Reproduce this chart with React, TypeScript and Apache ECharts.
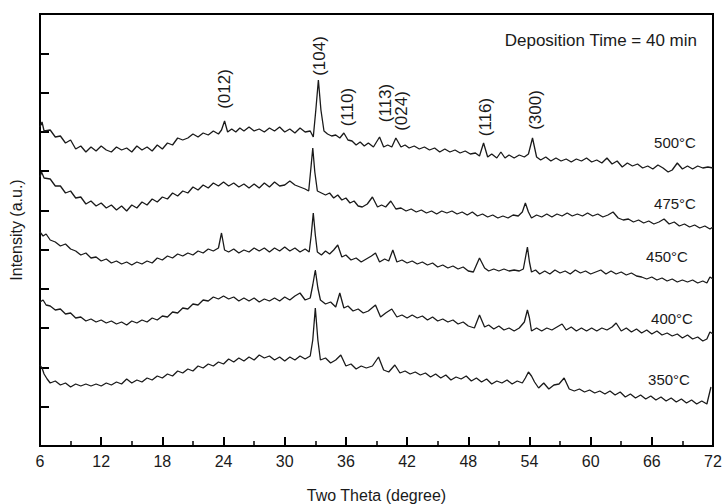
import React, { useEffect, useRef } from "react";
import * as echarts from "echarts";

// Two-theta (degree) vs intensity (a.u.).
const xTicks = [6, 12, 18, 24, 30, 36, 42, 48, 54, 60, 66, 72];

const s500: number[][] = [
  [6.0, 319], [6.2, 324], [6.4, 315], [7.0, 316], [7.5, 309], [8.0, 310], [8.5, 303], [9.0, 306], [9.5, 297], [10.0, 300],
  [10.5, 294], [11.0, 299], [11.5, 295], [12.0, 300], [12.5, 296], [13.0, 294], [13.5, 299], [14.0, 296], [14.5, 298], [15.0, 294],
  [15.5, 300], [16.0, 296], [16.5, 299], [17.0, 295], [17.5, 301], [18.0, 297], [18.5, 303], [19.0, 301], [19.5, 308], [20.0, 306],
  [20.5, 308], [21.0, 312], [21.5, 309], [22.0, 313], [22.5, 311], [23.0, 315], [23.5, 312], [23.8, 316], [24.1, 325], [24.4, 314],
  [24.8, 317], [25.2, 314], [25.6, 318], [26.0, 315], [26.5, 319], [27.0, 315], [27.5, 317], [28.0, 314], [28.5, 318], [29.0, 315],
  [29.5, 319], [30.0, 314], [30.5, 317], [31.0, 313], [31.5, 318], [32.0, 314], [32.5, 315], [32.8, 309], [33.05, 336], [33.3, 366],
  [33.55, 336], [33.85, 315], [34.2, 312], [34.6, 310], [35.0, 311], [35.4, 308], [35.8, 313], [36.2, 306], [36.6, 305], [37.0, 301],
  [37.4, 304], [37.8, 300], [38.2, 303], [38.7, 299], [39.3, 309], [39.7, 299], [40.1, 301], [40.5, 299], [40.9, 308], [41.4, 299],
  [41.8, 301], [42.2, 298], [42.7, 300], [43.2, 297], [43.7, 299], [44.2, 296], [44.7, 298], [45.2, 294], [45.7, 297], [46.2, 294],
  [46.7, 296], [47.2, 293], [47.7, 295], [48.2, 292], [48.7, 293], [49.1, 290], [49.5, 303], [49.9, 289], [50.3, 292], [50.8, 288],
  [51.2, 294], [51.6, 288], [52.0, 291], [52.5, 288], [53.0, 291], [53.5, 289], [53.9, 292], [54.3, 308], [54.7, 289], [55.1, 286],
  [55.6, 289], [56.1, 285], [56.6, 288], [57.1, 285], [57.6, 287], [58.1, 284], [58.6, 287], [59.1, 285], [59.6, 288], [60.1, 284],
  [60.6, 286], [61.1, 283], [61.6, 288], [62.1, 282], [62.6, 285], [63.1, 279], [63.6, 283], [64.1, 280], [64.6, 282], [65.1, 278],
  [65.6, 280], [66.1, 277], [66.6, 281], [67.1, 278], [67.6, 274], [68.0, 276], [68.5, 283], [69.0, 277], [69.5, 280], [70.0, 277],
  [70.5, 280], [71.0, 278], [71.5, 279], [72.0, 278],
];

const s475: number[][] = [
  [6.0, 269], [6.15, 274], [6.4, 268], [7.0, 267], [7.5, 260], [8.0, 260], [8.5, 253], [9.0, 255], [9.5, 248], [10.0, 249],
  [10.5, 242], [11.0, 245], [11.5, 240], [12.0, 243], [12.5, 238], [13.0, 241], [13.5, 236], [14.0, 240], [14.5, 235], [15.0, 241],
  [15.5, 238], [16.0, 244], [16.5, 241], [17.0, 247], [17.5, 244], [18.0, 249], [18.5, 247], [19.0, 253], [19.5, 250], [20.0, 255],
  [20.5, 253], [21.0, 259], [21.5, 256], [22.0, 261], [22.5, 258], [23.0, 263], [23.5, 260], [24.0, 264], [24.5, 260], [25.0, 263],
  [25.5, 259], [26.0, 262], [26.5, 258], [27.0, 262], [27.5, 258], [28.0, 263], [28.5, 259], [29.0, 264], [29.5, 260], [30.0, 261],
  [30.5, 265], [31.0, 261], [31.5, 259], [32.0, 257], [32.35, 255], [32.55, 276], [32.75, 298], [32.95, 274], [33.2, 255], [33.6, 253],
  [34.0, 251], [34.4, 253], [34.8, 248], [35.2, 251], [35.6, 246], [36.0, 248], [36.4, 243], [36.8, 245], [37.2, 240], [37.6, 239],
  [38.1, 242], [38.6, 249], [39.1, 239], [39.5, 241], [39.9, 239], [40.4, 245], [40.9, 237], [41.4, 238], [41.9, 235], [42.4, 237],
  [42.9, 234], [43.4, 236], [43.9, 233], [44.4, 235], [44.9, 232], [45.4, 235], [45.9, 233], [46.4, 235], [46.9, 232], [47.4, 234],
  [47.9, 231], [48.4, 234], [48.9, 230], [49.4, 232], [49.9, 229], [50.4, 231], [50.9, 228], [51.4, 230], [51.9, 228], [52.4, 231],
  [52.9, 230], [53.3, 234], [53.6, 243], [53.9, 234], [54.2, 228], [54.7, 231], [55.2, 229], [55.7, 232], [56.2, 229], [56.7, 232],
  [57.2, 230], [57.7, 233], [58.2, 230], [58.7, 232], [59.2, 230], [59.7, 233], [60.2, 230], [60.7, 232], [61.2, 229], [61.7, 231],
  [62.2, 234], [62.7, 228], [63.2, 226], [63.7, 227], [64.2, 224], [64.7, 226], [65.2, 223], [65.7, 225], [66.2, 222], [66.7, 224],
  [67.2, 227], [67.7, 222], [68.2, 224], [68.7, 220], [69.2, 222], [69.7, 219], [70.2, 221], [70.7, 218], [71.2, 220], [71.7, 217],
  [72.0, 219],
];

const s450: number[][] = [
  [6.0, 214], [6.3, 210], [6.6, 212], [7.0, 206], [7.5, 204], [8.0, 200], [8.5, 202], [9.0, 197], [9.5, 195], [10.0, 191],
  [10.5, 193], [11.0, 188], [11.5, 189], [12.0, 185], [12.5, 187], [13.0, 183], [13.5, 185], [14.0, 182], [14.5, 184], [15.0, 181],
  [15.5, 184], [16.0, 182], [16.5, 185], [17.0, 183], [17.5, 188], [18.0, 186], [18.5, 190], [19.0, 188], [19.5, 192], [20.0, 190],
  [20.5, 193], [21.0, 191], [21.5, 195], [22.0, 193], [22.5, 197], [23.0, 195], [23.5, 198], [23.8, 213], [24.1, 196], [24.5, 194],
  [25.0, 197], [25.5, 193], [26.0, 196], [26.5, 194], [27.0, 198], [27.5, 195], [28.0, 198], [28.5, 194], [29.0, 198], [29.5, 195],
  [30.0, 199], [30.5, 195], [31.0, 198], [31.5, 194], [32.0, 197], [32.4, 194], [32.6, 211], [32.8, 233], [33.0, 211], [33.2, 194],
  [33.6, 191], [34.0, 195], [34.4, 192], [34.8, 196], [35.2, 201], [35.6, 189], [36.0, 191], [36.5, 186], [37.0, 188], [37.5, 184],
  [38.0, 187], [38.5, 190], [38.9, 193], [39.3, 184], [39.8, 187], [40.2, 185], [40.6, 196], [41.0, 184], [41.5, 186], [42.0, 183],
  [42.5, 185], [43.0, 182], [43.5, 184], [44.0, 181], [44.5, 183], [45.0, 179], [45.5, 181], [46.0, 178], [46.5, 180], [47.0, 177],
  [47.5, 179], [48.0, 175], [48.5, 174], [49.1, 188], [49.6, 178], [50.0, 175], [50.5, 177], [51.0, 175], [51.5, 177], [52.0, 175],
  [52.5, 176], [53.0, 175], [53.4, 177], [53.6, 188], [53.8, 199], [54.0, 184], [54.2, 174], [54.6, 176], [55.0, 172], [55.5, 175],
  [56.0, 172], [56.5, 176], [57.0, 173], [57.5, 175], [58.0, 172], [58.5, 176], [59.0, 173], [59.5, 175], [60.0, 172], [60.5, 174],
  [61.0, 176], [61.5, 172], [62.0, 175], [62.5, 172], [63.0, 174], [63.5, 171], [64.0, 173], [64.5, 170], [65.0, 169], [65.5, 167],
  [66.0, 169], [66.5, 166], [67.0, 168], [67.5, 165], [68.0, 167], [68.5, 164], [69.0, 166], [69.5, 164], [70.0, 166], [70.5, 163],
  [71.0, 165], [71.4, 163], [71.7, 169], [72.0, 167],
];

const s400: number[][] = [
  [6.0, 144], [6.3, 146], [6.6, 141], [7.0, 140], [7.5, 136], [8.0, 137], [8.5, 132], [9.0, 133], [9.5, 128], [10.0, 129],
  [10.5, 125], [11.0, 127], [11.5, 124], [12.0, 126], [12.5, 123], [13.0, 125], [13.5, 122], [14.0, 124], [14.5, 121], [15.0, 125],
  [15.5, 123], [16.0, 126], [16.5, 124], [17.0, 128], [17.5, 126], [18.0, 130], [18.5, 129], [19.0, 134], [19.5, 133], [20.0, 138],
  [20.5, 137], [21.0, 142], [21.5, 141], [22.0, 146], [22.5, 145], [23.0, 149], [23.5, 147], [24.0, 150], [24.5, 147], [25.0, 149],
  [25.5, 145], [26.0, 148], [26.5, 145], [27.0, 148], [27.5, 144], [28.0, 147], [28.5, 145], [29.0, 148], [29.5, 145], [30.0, 149],
  [30.5, 146], [31.0, 150], [31.5, 153], [32.0, 146], [32.5, 148], [32.75, 161], [33.0, 176], [33.25, 158], [33.5, 146], [34.0, 142],
  [34.5, 144], [35.0, 139], [35.4, 153], [35.8, 138], [36.2, 140], [36.7, 135], [37.2, 137], [37.7, 133], [38.2, 135], [38.9, 141],
  [39.4, 129], [39.9, 133], [40.5, 137], [41.0, 129], [41.5, 131], [42.0, 128], [42.5, 131], [43.0, 128], [43.5, 130], [44.0, 126],
  [44.5, 129], [45.0, 125], [45.5, 127], [46.0, 124], [46.5, 126], [47.0, 122], [47.5, 124], [48.0, 120], [48.6, 118], [49.1, 131],
  [49.6, 119], [50.0, 121], [50.5, 117], [51.0, 120], [51.5, 116], [52.0, 118], [52.5, 115], [53.0, 118], [53.5, 124], [53.8, 136],
  [54.0, 128], [54.2, 115], [54.7, 118], [55.2, 115], [55.7, 118], [56.2, 116], [56.7, 119], [57.2, 122], [57.6, 116], [58.1, 119],
  [58.6, 115], [59.1, 118], [59.6, 115], [60.1, 118], [60.6, 115], [61.1, 118], [61.6, 116], [62.1, 119], [62.5, 123], [63.0, 115],
  [63.5, 118], [64.0, 114], [64.5, 117], [65.0, 113], [65.5, 116], [66.0, 112], [66.5, 115], [67.0, 111], [67.5, 113], [68.0, 110],
  [68.5, 112], [69.0, 108], [69.5, 111], [70.0, 107], [70.5, 109], [71.0, 105], [71.4, 107], [71.7, 114], [72.0, 112],
];

const s350: number[][] = [
  [6.0, 81], [6.2, 78], [6.4, 72], [6.7, 67], [7.0, 63], [7.5, 65], [8.0, 61], [8.5, 63], [9.0, 59], [9.5, 62],
  [10.0, 60], [10.5, 62], [11.0, 60], [11.5, 62], [12.0, 60], [12.5, 63], [13.0, 61], [13.5, 64], [14.0, 62], [14.5, 67],
  [15.0, 63], [15.5, 66], [16.0, 64], [16.5, 68], [17.0, 66], [17.5, 70], [18.0, 68], [18.5, 72], [19.0, 70], [19.5, 75],
  [20.0, 73], [20.5, 77], [21.0, 75], [21.5, 80], [22.0, 78], [22.5, 82], [23.0, 80], [23.5, 84], [24.0, 82], [24.5, 87],
  [25.0, 84], [25.5, 88], [26.0, 85], [26.5, 89], [27.0, 86], [27.5, 91], [28.0, 88], [28.5, 90], [29.0, 86], [29.5, 89],
  [30.0, 85], [30.5, 89], [31.0, 86], [31.5, 90], [32.0, 87], [32.5, 90], [32.75, 106], [33.0, 138], [33.25, 106], [33.5, 86],
  [34.0, 88], [34.5, 83], [35.0, 86], [35.5, 91], [36.0, 80], [36.5, 82], [37.0, 77], [37.5, 80], [38.0, 78], [38.6, 80],
  [39.2, 89], [39.7, 76], [40.2, 74], [40.8, 81], [41.3, 73], [41.8, 75], [42.3, 72], [42.8, 74], [43.3, 71], [43.8, 73],
  [44.3, 69], [44.8, 72], [45.3, 68], [45.8, 71], [46.3, 66], [46.8, 69], [47.3, 67], [47.8, 70], [48.3, 65], [48.8, 68],
  [49.3, 64], [49.8, 67], [50.3, 62], [50.8, 65], [51.3, 63], [51.8, 66], [52.3, 62], [52.8, 65], [53.3, 63], [53.6, 68],
  [53.9, 74], [54.2, 70], [54.5, 64], [54.9, 58], [55.4, 63], [55.9, 57], [56.4, 61], [56.9, 62], [57.4, 68], [57.9, 57],
  [58.4, 55], [58.9, 57], [59.4, 54], [59.9, 56], [60.4, 53], [60.9, 55], [61.4, 52], [61.9, 55], [62.4, 51], [62.9, 54],
  [63.4, 49], [63.9, 52], [64.4, 48], [64.9, 51], [65.4, 47], [65.9, 50], [66.4, 46], [66.9, 49], [67.4, 45], [67.9, 48],
  [68.4, 44], [68.9, 47], [69.4, 43], [69.9, 46], [70.4, 42], [70.9, 45], [71.4, 42], [71.8, 59],
];

const seriesNames = ["500°C", "475°C", "450°C", "400°C", "350°C"];
const seriesData = [s500, s475, s450, s400, s350];

const peakLabels = ["(012)", "(104)", "(110)", "(113)", "(024)", "(116)", "(300)"];
const peakLabelPos = [
  [224, 89], [319, 56], [347, 107], [385, 103], [401, 111], [485, 117], [535, 110],
];
const tempLabelPos = [
  [675, 142], [675, 203], [667, 256], [672, 318], [669, 379],
];

const FONT = "'Liberation Sans', Arial, Helvetica, sans-serif";
const INK = "#1a1a1a";

export default function App() {
  const ref = useRef<HTMLDivElement>(null);

  useEffect(() => {
    if (!ref.current) return;
    const chart = echarts.init(ref.current, undefined, { renderer: "svg" });

    const graphics: any[] = [];
    peakLabels.forEach((t, i) => {
      graphics.push({
        type: "text",
        x: peakLabelPos[i][0],
        y: peakLabelPos[i][1],
        rotation: Math.PI / 2,
        style: {
          text: t,
          fontSize: 17,
          fontFamily: FONT,
          fill: INK,
          align: "center",
          verticalAlign: "middle",
        },
      });
    });
    seriesNames.forEach((t, i) => {
      graphics.push({
        type: "text",
        x: tempLabelPos[i][0],
        y: tempLabelPos[i][1],
        style: {
          text: t,
          fontSize: 15,
          fontFamily: FONT,
          fill: INK,
          align: "center",
          verticalAlign: "middle",
        },
      });
    });
    graphics.push({
      type: "text",
      x: 697,
      y: 40,
      style: {
        text: "Deposition Time = 40 min",
        fontSize: 17,
        fontFamily: FONT,
        fill: INK,
        align: "right",
        verticalAlign: "middle",
      },
    });

    chart.setOption({
      animation: false,
      backgroundColor: "#ffffff",
      grid: {
        left: 40,
        right: 13,
        top: 14,
        bottom: 58,
        containLabel: false,
        outerBoundsMode: "none",
        show: true,
        borderColor: "#000",
        borderWidth: 2,
        backgroundColor: "transparent",
      },
      xAxis: {
        type: "value",
        min: xTicks[0],
        max: xTicks[xTicks.length - 1],
        interval: 6,
        name: "Two Theta (degree)",
        nameLocation: "middle",
        nameGap: 41,
        nameTextStyle: { fontSize: 16, fontFamily: FONT, color: INK },
        axisLine: { lineStyle: { color: "#000", width: 2 } },
        axisTick: { inside: true, length: 9, lineStyle: { color: "#000", width: 2 } },
        minorTick: { show: true, splitNumber: 2, length: 5, lineStyle: { color: "#000", width: 1.5 } },
        axisLabel: { fontSize: 16, fontFamily: FONT, color: INK, margin: 7 },
        splitLine: { show: false },
      },
      yAxis: {
        type: "value",
        min: 0,
        max: 432,
        interval: 432 / 11,
        name: "Intensity (a.u.)",
        nameLocation: "middle",
        nameRotate: 90,
        nameGap: 16,
        nameTextStyle: { fontSize: 16, fontFamily: FONT, color: INK },
        axisLine: { show: true, lineStyle: { color: "#000", width: 2 } },
        axisTick: { show: true, inside: true, length: 9, lineStyle: { color: "#000", width: 2 } },
        axisLabel: { show: false },
        splitLine: { show: false },
      },
      series: seriesData.map((d, i) => ({
        name: seriesNames[i],
        type: "line",
        data: d,
        showSymbol: false,
        symbol: "none",
        lineStyle: { color: INK, width: 1.3 },
        silent: true,
      })),
      graphic: graphics,
    });

    return () => chart.dispose();
  }, []);

  return <div ref={ref} style={{ width: 726, height: 504, position: "absolute", left: 0, top: 0 }} />;
}
